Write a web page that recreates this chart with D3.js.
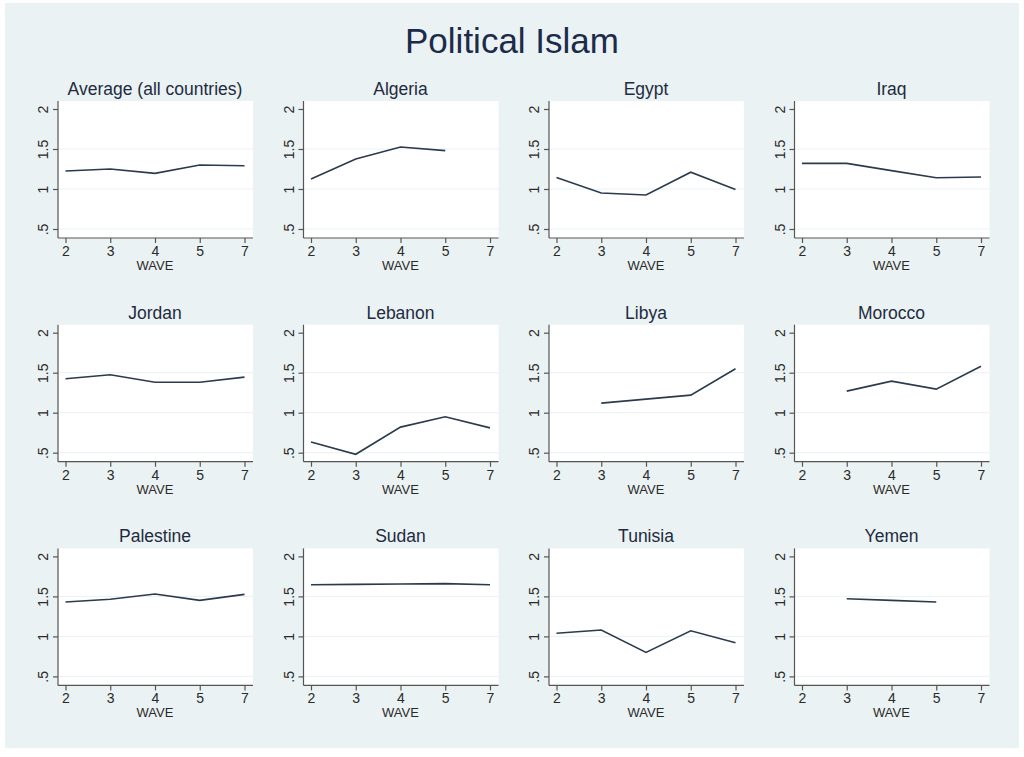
<!DOCTYPE html>
<html>
<head>
<meta charset="utf-8">
<script src="https://cdn.jsdelivr.net/npm/d3@7"></script>
<style>
  body { margin: 0; background: #fff; }
  svg { display: block; font-family: "Liberation Sans", Arial, sans-serif; }
</style>
</head>
<body>
<div id="chart"></div>
<script>
(function () {

  // data
  var waves = [2, 3, 4, 5, 7]
  var yTicks = [0.5, 1, 1.5, 2]
  var yTickLabels = [".5", "1", "1.5", "2"]

  var titles = ["Average (all countries)", "Algeria", "Egypt", "Iraq",
                "Jordan", "Lebanon", "Libya", "Morocco",
                "Palestine", "Sudan", "Tunisia", "Yemen"]

  var average   = [1.225, 1.25, 1.195, 1.30, 1.29]
  var algeria   = [1.125, 1.375, 1.525, 1.48, null]
  var egypt     = [1.145, 0.95, 0.925, 1.21, 0.995]
  var iraq      = [1.32, 1.32, 1.23, 1.14, 1.15]
  var jordan    = [1.425, 1.475, 1.38, 1.38, 1.445]
  var lebanon   = [0.635, 0.48, 0.82, 0.95, 0.81]
  var libya     = [null, 1.12, 1.17, 1.22, 1.55]
  var morocco   = [null, 1.27, 1.395, 1.295, 1.58]
  var palestine = [1.43, 1.465, 1.53, 1.45, 1.525]
  var sudan     = [1.645, 1.65, 1.655, 1.66, 1.645]
  var tunisia   = [1.04, 1.08, 0.80, 1.07, 0.92]
  var yemen     = [null, 1.47, 1.45, 1.43, null]

  var series = [average, algeria, egypt, iraq, jordan, lebanon,
                libya, morocco, palestine, sudan, tunisia, yemen]

  var width = 1024, height = 757
  var bg = "#eaf2f3"

  var svg = d3.select("#chart").append("svg")
      .attr("width", width)
      .attr("height", height)

  svg.append("rect")
    .attr("x", 5).attr("y", 3)
    .attr("width", 1014).attr("height", 745)
    .attr("fill", bg)

  svg.append("text")
    .attr("x", 512).attr("y", 53)
    .attr("text-anchor", "middle")
    .attr("font-size", 35)
    .attr("fill", "#1c2b4a")
    .text("Political Islam")

  var plotW = 195, plotH = 137

  var xScale = d3.scalePoint()
    .domain(waves)
    .range([7.5, 186.5])

  var yScale = d3.scaleLinear()
    .domain([0.5, 2])
    .range([128, 8])

  var line = d3.line()
    .defined(function (d) { return d.v != null })
    .x(function (d) { return xScale(d.w) })
    .y(function (d) { return yScale(d.v) })

  titles.forEach(function (title, i) {
    var col = i % 4, row = Math.floor(i / 4)
    var g = svg.append("g")
      .attr("transform", "translate(" + (58 + col * 245.5) + "," + (101 + row * 223.7) + ")")

    g.append("rect")
      .attr("width", plotW).attr("height", plotH)
      .attr("fill", "#fff")

    // faint grid lines
    g.selectAll(".grid")
      .data(yTicks.slice(0, 3))
      .enter().append("line")
      .attr("x1", 0).attr("x2", plotW)
      .attr("y1", function (d) { return yScale(d) })
      .attr("y2", function (d) { return yScale(d) })
      .attr("stroke", bg)
      .attr("stroke-width", 1)

    g.append("path")
      .datum(waves.map(function (w, j) { return { w: w, v: series[i][j] } }))
      .attr("d", line)
      .attr("fill", "none")
      .attr("stroke", "#2b3a4c")
      .attr("stroke-width", 1.6)

    var xAxis = d3.axisBottom(xScale).tickSize(5).tickPadding(3)
    var gx = g.append("g")
      .attr("transform", "translate(0," + plotH + ")")
      .call(xAxis)
    gx.select(".domain").attr("d", "M0,0H" + plotW)

    var yAxis = d3.axisLeft(yScale)
      .tickValues(yTicks)
      .tickFormat(function (d, k) { return yTickLabels[k] })
      .tickSize(5)
    var gy = g.append("g").call(yAxis)
    gy.select(".domain").attr("d", "M0,0V" + plotH)
    gy.selectAll(".tick text")
      .attr("transform", "rotate(-90)")
      .attr("x", 0).attr("y", -10)
      .attr("dy", 0)
      .attr("text-anchor", "middle")

    g.selectAll(".domain, .tick line").attr("stroke", "#555").attr("stroke-width", 1.2)
    g.selectAll("g").attr("font-size", 14)
    g.selectAll(".tick text")
      .attr("font-size", 14)
      .attr("font-family", "Liberation Sans, Arial, sans-serif")
      .attr("fill", "#2a2a2a")

    g.append("text")
      .attr("x", 97).attr("y", plotH + 32)
      .attr("text-anchor", "middle")
      .attr("font-size", 13)
      .attr("fill", "#2a2a2a")
      .text("WAVE")

    g.append("text")
      .attr("x", 97).attr("y", -6)
      .attr("text-anchor", "middle")
      .attr("font-size", 17.5)
      .attr("fill", "#1e2b40")
      .text(title)
  })

})()
</script>
</body>
</html>
